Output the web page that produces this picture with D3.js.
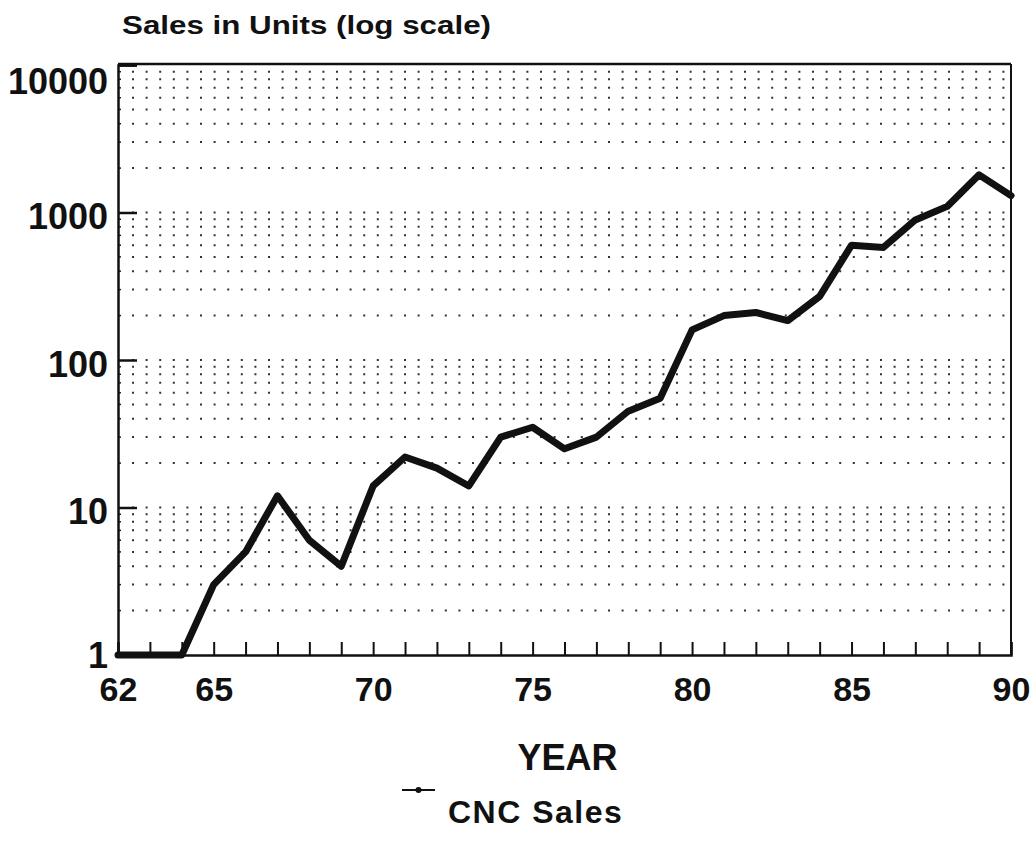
<!DOCTYPE html>
<html>
<head>
<meta charset="utf-8">
<script src="https://cdn.jsdelivr.net/npm/d3@7"></script>
<style>
  body { margin: 0; background: #fff; }
  text { font-family: "Liberation Sans", Arial, Helvetica, sans-serif; font-weight: bold; fill: #111; }
</style>
</head>
<body>
<svg id="chart"></svg>
<script>
// CNC sales
const years = [62, 63, 64, 65, 66, 67, 68, 69, 70, 71, 72, 73, 74, 75, 76,
               77, 78, 79, 80, 81, 82, 83, 84, 85, 86, 87, 88, 89, 90];
const sales = [1, 1, 1, 3, 5, 12, 6, 4, 14, 22, 18.5, 14, 30, 35, 25,
               30, 45, 55, 160, 200, 210, 185, 270, 600, 580, 890, 1100, 1800, 1300];
const xTickLabels = [62, 65, 70, 75, 80, 85, 90];
const yTickLabels = [1, 10, 100, 1000, 10000];

const width = 1033, height = 851;
const margin = { top: 65, right: 22, bottom: 196, left: 118 };
const innerW = width - margin.left - margin.right;
const innerH = height - margin.top - margin.bottom;

const svg = d3.select("#chart")
    .attr("width", width)
    .attr("height", height);

const g = svg.append("g")
    .attr("transform", `translate(${margin.left},${margin.top})`);

const x = d3.scaleLinear().domain([62, 90]).range([0, innerW]);
const y = d3.scaleLog().domain([1, 10000]).range([innerH, 0]);

// dotted grid rows: 2..9 of every decade plus the decade lines
const gridVals = [];
for (let e = 0; e < 4; e++) {
    for (let m = 1; m <= 9; m++) {
        const v = m * Math.pow(10, e);
        if (v > 1) gridVals.push(v);
    }
}

g.selectAll(".grid")
    .data(gridVals)
    .join("line")
    .attr("class", "grid")
    .attr("x1", 14)
    .attr("x2", innerW)
    .attr("y1", d => y(d))
    .attr("y2", d => y(d))
    .attr("stroke", "#333")
    .attr("stroke-width", 2)
    .attr("stroke-dasharray", "2,11.6");

// tiny minor marks on the left axis
g.selectAll(".minor")
    .data(gridVals.filter(v => !yTickLabels.includes(v)))
    .join("line")
    .attr("x1", 0).attr("x2", 3)
    .attr("y1", d => y(d)).attr("y2", d => y(d))
    .attr("stroke", "#222").attr("stroke-width", 1.5);

// frame
g.append("line")
    .attr("x1", 0).attr("x2", innerW).attr("y1", -1).attr("y2", -1)
    .attr("stroke", "#111").attr("stroke-width", 2.5);
g.append("line")
    .attr("x1", innerW).attr("x2", innerW).attr("y1", -1).attr("y2", innerH)
    .attr("stroke", "#111").attr("stroke-width", 2);

// y axis
const yAxis = d3.axisLeft(y)
    .tickValues(yTickLabels)
    .tickSize(-19)
    .tickFormat(d3.format("d"));

const yg = g.append("g").call(yAxis);
yg.select(".domain").attr("stroke", "#111").attr("stroke-width", 2.5);
yg.selectAll(".tick line").attr("stroke", "#111").attr("stroke-width", 2.5);
yg.selectAll(".tick text")
    .attr("x", -10)
    .attr("dy", d => d === 10000 ? "0.8em" : (d === 1 ? "0.36em" : "0.45em"))
    .style("font-size", "36px")
    .style("font-family", "Liberation Sans, Arial, sans-serif")
    .style("font-weight", "bold")
    .attr("fill", "#111");

// x axis, ticks every year pointing up
const xAxis = d3.axisBottom(x)
    .tickValues(years)
    .tickSize(-13)
    .tickFormat(d => xTickLabels.includes(d) ? d : "");

const xg = g.append("g")
    .attr("transform", `translate(0,${innerH})`)
    .call(xAxis);
xg.select(".domain").attr("stroke", "#111").attr("stroke-width", 2.5);
xg.selectAll(".tick line").attr("stroke", "#111").attr("stroke-width", 2);
xg.selectAll(".tick text")
    .attr("y", 22)
    .attr("dy", "0.72em")
    .style("font-size", "34px")
    .style("font-family", "Liberation Sans, Arial, sans-serif")
    .style("font-weight", "bold")
    .attr("fill", "#111");

// sales line
const line = d3.line()
    .x((d, i) => x(years[i]))
    .y(d => y(d));

g.append("path")
    .datum(sales)
    .attr("d", line)
    .attr("fill", "none")
    .attr("stroke", "#111")
    .attr("stroke-width", 7)
    .attr("stroke-linejoin", "round")
    .attr("stroke-linecap", "round");

// titles
svg.append("text")
    .attr("x", 122)
    .attr("y", 34)
    .attr("textLength", 369)
    .attr("lengthAdjust", "spacingAndGlyphs")
    .style("font-size", "26px")
    .text("Sales in Units (log scale)");

svg.append("text")
    .attr("x", margin.left + innerW / 2 + 3)
    .attr("y", 770)
    .attr("text-anchor", "middle")
    .style("font-size", "36px")
    .text("YEAR");

// legend
const lg = svg.append("g").attr("transform", "translate(402,790)");
lg.append("line")
    .attr("x1", 0).attr("x2", 33).attr("y1", 0).attr("y2", 0)
    .attr("stroke", "#111").attr("stroke-width", 2);
lg.append("circle")
    .attr("cx", 16.5).attr("cy", 0).attr("r", 3)
    .attr("fill", "#111");
lg.append("text")
    .attr("x", 46)
    .attr("y", 33)
    .style("font-size", "32px")
    .style("letter-spacing", "1.5px")
    .text("CNC Sales");
</script>
</body>
</html>
